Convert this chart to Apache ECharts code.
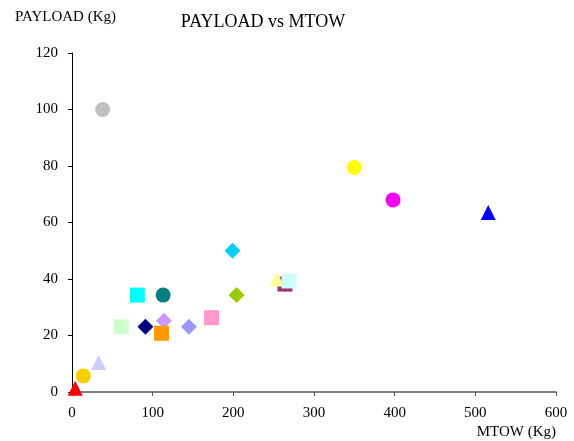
<!DOCTYPE html>
<html>
<head>
<meta charset="utf-8">
<script src="https://cdn.jsdelivr.net/npm/echarts@6/dist/echarts.min.js"></script>
<style>html,body{margin:0;padding:0;background:#fff;}#c{width:574px;height:441px;}</style>
</head>
<body>
<div id="c"></div>
<script>
// Data (MTOW in Kg, PAYLOAD in Kg)
var mtow    = [38, 350, 398, 516, 199, 264, 254, 269, 204, 81, 113, 61, 91, 114, 145, 111, 173, 33, 14, 4];
var payload = [100, 79.5, 68, 63.5, 50, 38.2, 40, 39.3, 34.3, 34.3, 34.3, 23.1, 23.1, 25.2, 23.1, 20.8, 26.3, 10.4, 5.7, 1.3];
var xTicks  = [0, 100, 200, 300, 400, 500, 600];
var yTicks  = [0, 20, 40, 60, 80, 100, 120];

// Marker styles (one per point)
var shapes = ['circle','circle','circle','triangle','diamond','rect','triangle','rect','diamond','rect','circle','rect','diamond','diamond','diamond','rect','rect','triangle','circle','triangle'];
var colors = ['#C0C0C0','#FFFF00','#FF00FF','#0000FF','#00CCFF','#993366','#FFFF99','#CCFFFF','#99CC00','#00FFFF','#008080','#CCFFCC','#000080','#CC99FF','#9999FF','#FF9900','#FF99CC','#CCCCFF','#FFCC00','#FF0000'];

var series = mtow.map(function (x, i) {
  return {
    type: 'scatter',
    symbol: shapes[i],
    symbolSize: shapes[i] === 'diamond' ? 16 : 15,
    itemStyle: { color: colors[i], opacity: 1 },
    data: [[x, payload[i]]],
    z: 2 + i
  };
});

var font = "'Liberation Serif', 'Times New Roman', serif";
var chart = echarts.init(document.getElementById('c'));
chart.setOption({
  animation: false,
  backgroundColor: '#fff',
  textStyle: { fontFamily: font },
  title: {
    text: 'PAYLOAD vs MTOW',
    left: 258, top: 8,
    textAlign: 'center',
    textStyle: { fontFamily: font, fontSize: 18, fontWeight: 'normal', color: '#000' }
  },
  grid: { left: 72, right: 18, top: 53, bottom: 49, containLabel: false },
  xAxis: {
    type: 'value', min: xTicks[0], max: xTicks[xTicks.length - 1], interval: 100,
    name: 'MTOW (Kg)', nameLocation: 'end', nameGap: 0,
    nameTextStyle: { fontFamily: font, fontSize: 15, color: '#000', align: 'right', verticalAlign: 'top', padding: [33, 0, 0, 0] },
    axisLine: { show: true, lineStyle: { color: '#555', width: 1.5 } },
    axisTick: { show: true, inside: false, length: 4, lineStyle: { color: '#555' } },
    axisLabel: { fontFamily: font, fontSize: 15, color: '#000', margin: 14 },
    splitLine: { show: false }
  },
  yAxis: {
    type: 'value', min: yTicks[0], max: yTicks[yTicks.length - 1], interval: 20,
    name: 'PAYLOAD (Kg)', nameLocation: 'end', nameGap: 28,
    nameTextStyle: { fontFamily: font, fontSize: 15, color: '#000', align: 'center', padding: [0, 13, 0, 0] },
    axisLine: { show: true, lineStyle: { color: '#000', width: 1 } },
    axisTick: { show: true, inside: false, length: 4, lineStyle: { color: '#000' } },
    axisLabel: { fontFamily: font, fontSize: 15, color: '#000', margin: 14 },
    splitLine: { show: false }
  },
  series: series
});
</script>
</body>
</html>
